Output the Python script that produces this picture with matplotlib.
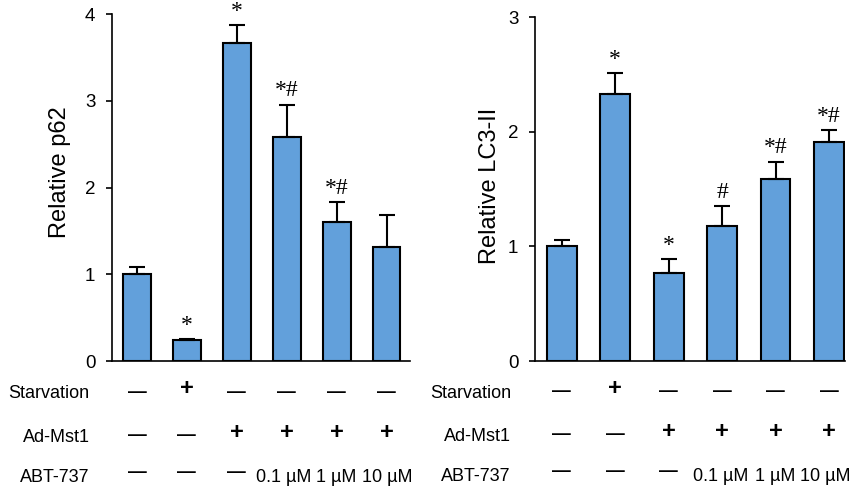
import numpy as np
import matplotlib.pyplot as plt
from matplotlib.transforms import blended_transform_factory

plt.rcParams['font.family'] = ['Liberation Sans', 'DejaVu Sans']

# data
p62_mean = [1.00, 0.245, 3.67, 2.585, 1.605, 1.32]
p62_err = [0.08, 0.01, 0.20, 0.37, 0.225, 0.36]
p62_marks = ['', '*', '*', '*#', '*#', '']

lc3_mean = [1.00, 2.33, 0.77, 1.18, 1.585, 1.91]
lc3_err = [0.06, 0.18, 0.12, 0.17, 0.155, 0.105]
lc3_marks = ['', '*', '*', '#', '*#', '*#']

starvation = ['—', '+', '—', '—', '—', '—']
ad_mst1 = ['—', '—', '+', '+', '+', '+']
abt737 = ['—', '—', '—', '0.1 µM', '1 µM', '10 µM']
row_names = ['Starvation', 'Ad-Mst1', 'ABT-737']

bar_color = '#62a0db'

fig = plt.figure(figsize=(8.55, 4.88), dpi=100)
ax1 = fig.add_axes([0.131, 0.2602, 0.3485, 0.7111])
ax2 = fig.add_axes([0.6257, 0.2602, 0.3626, 0.7043])


def draw_panel(ax, means, errs, marks, ymax, ylabel, xmax, lab_xy, conc_dx):
    x = np.arange(len(means))
    ax.bar(x, means, width=0.56, color=bar_color, edgecolor='black',
           linewidth=1.5, zorder=2)
    ax.errorbar(x, means, yerr=[np.zeros(len(means)), errs], fmt='none',
                ecolor='black', elinewidth=1.5, capsize=5.5, capthick=1.5,
                zorder=3)
    for xi, m, e, s in zip(x, means, errs, marks):
        if s:
            ax.annotate(s, (xi, m + e), xytext=(0, 10),
                        textcoords='offset points', ha='center', va='center',
                        fontsize=17, annotation_clip=False,
                        family=['Liberation Serif', 'DejaVu Serif'])
    ax.set_xlim(-0.5, xmax)
    ax.set_ylim(0, ymax)
    ax.set_yticks(range(ymax + 1))
    ax.set_xticks([])
    for sp in ['top', 'right']:
        ax.spines[sp].set_visible(False)
    for sp in ['left', 'bottom']:
        ax.spines[sp].set_linewidth(1.2)
    ax.tick_params(axis='y', direction='out', length=4, width=1.2,
                   labelsize=13.5, pad=8)
    ax.set_ylabel(ylabel, fontsize=17)
    ax.yaxis.set_label_coords(*lab_xy)

    tr = blended_transform_factory(ax.transData, ax.transAxes)
    rows_y = [-0.09, -0.215, -0.33]
    rows = [starvation, ad_mst1, abt737]
    for yy, name, vals in zip(rows_y, row_names, rows):
        ax.text(-0.95, yy - 0.005, name, transform=tr, ha='right',
                va='center', fontsize=13, clip_on=False)
        k = 0
        for xi, v in zip(x, vals):
            if v == '+':
                ax.text(xi, yy + 0.01, v, transform=tr, ha='center',
                        va='center', fontsize=17, fontweight='bold',
                        clip_on=False)
            elif v == '—':
                ax.text(xi, yy + (0.01 if yy < -0.3 else 0), v, transform=tr,
                        ha='center', va='center', fontsize=13.5,
                        fontweight='bold', clip_on=False)
            else:
                ax.annotate(v, (xi, yy - 0.005), xycoords=tr,
                            xytext=(conc_dx[k], 0), textcoords='offset points',
                            ha='center', va='center', fontsize=13,
                            annotation_clip=False)
                k += 1


draw_panel(ax1, p62_mean, p62_err, p62_marks, 4, 'Relative p62', 5.47,
           (-0.138, 0.545), [-2.5, 0, 0.7])
draw_panel(ax2, lc3_mean, lc3_err, lc3_marks, 3, 'Relative LC3-II', 5.3,
           (-0.11, 0.509), [-0.7, -0.4, -2.5])

fig.savefig('out.png', dpi=100)
